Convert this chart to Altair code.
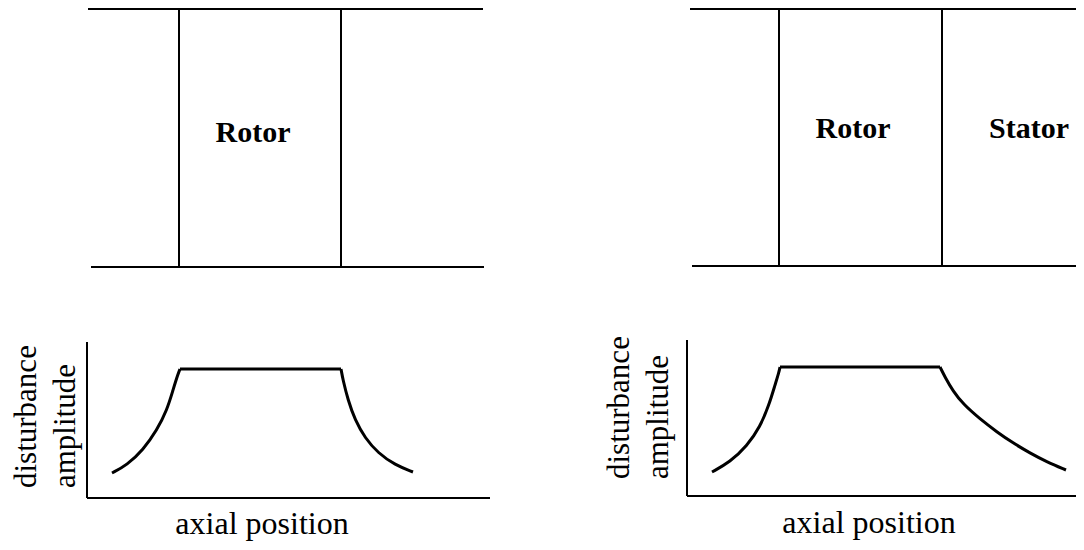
import altair as alt
import pandas as pd

# ---- schematic geometry (image units) ----
wall_x1 = [88, 91, 179, 341, 690, 692, 779, 942]
wall_y1 = [9, 267, 9, 9, 9, 266, 9, 9]
wall_x2 = [483, 484, 179, 341, 1084, 1084, 779, 942]
wall_y2 = [9, 267, 267, 267, 9, 266, 266, 266]

axis_x1 = [87, 87, 687, 687]
axis_y1 = [342, 498, 340, 496]
axis_x2 = [87, 490, 687, 1084]
axis_y2 = [498, 498, 496, 496]

# disturbance amplitude curves (axial position, amplitude), split into rise / flat / decay
left_rise_x = [112, 127, 143, 157, 167, 173, 178, 180]
left_rise_y = [473, 465, 450, 430, 410, 390, 374, 369]
left_flat_x = [180, 341]
left_flat_y = [369, 369]
left_fall_x = [341, 343, 348, 355, 365, 378, 395, 413]
left_fall_y = [369, 380, 400, 420, 438, 453, 465, 472]

right_rise_x = [712, 730, 747, 760, 769, 775, 779, 780]
right_rise_y = [472, 462, 446, 427, 405, 385, 372, 367]
right_flat_x = [780, 940]
right_flat_y = [367, 367]
right_fall_x = [940, 945, 953, 963, 980, 997, 1013, 1030, 1047, 1066]
right_fall_y = [367, 377, 391, 404, 419, 432, 443, 453, 462, 470]

# labels
block_text = ["Rotor", "Rotor", "Stator"]
block_x = [253, 853, 1029]
block_y = [142, 138, 138]

xlabel_text = ["axial position", "axial position"]
xlabel_x = [262, 869]
xlabel_y = [534, 533]

ylabel_text = ["disturbance", "amplitude", "disturbance", "amplitude"]
ylabel_x = [36, 75, 629, 668]
ylabel_y = [488, 488, 479, 479]

# ---- tables ----
walls = pd.DataFrame({"x": wall_x1, "y": wall_y1, "x2": wall_x2, "y2": wall_y2})
axes_df = pd.DataFrame({"x": axis_x1, "y": axis_y1, "x2": axis_x2, "y2": axis_y2})

rows = []
for name, xs, ys in [
    ("l_rise", left_rise_x, left_rise_y), ("l_flat", left_flat_x, left_flat_y),
    ("l_fall", left_fall_x, left_fall_y), ("r_rise", right_rise_x, right_rise_y),
    ("r_flat", right_flat_x, right_flat_y), ("r_fall", right_fall_x, right_fall_y),
]:
    for i, (a, b) in enumerate(zip(xs, ys)):
        rows.append({"seg": name, "i": i, "x": a, "y": b})
curve = pd.DataFrame(rows)

blocks = pd.DataFrame({"t": block_text, "x": block_x, "y": block_y})
xlabels = pd.DataFrame({"t": xlabel_text, "x": xlabel_x, "y": xlabel_y})
ylabels = pd.DataFrame({"t": ylabel_text, "x": ylabel_x, "y": ylabel_y})

XS = alt.Scale(domain=[8, 1076], nice=False, zero=False)
YS = alt.Scale(domain=[8, 542], nice=False, zero=False, reverse=True)
FONT = "Liberation Serif"

def X(f="x"):
    return alt.X(f"{f}:Q", scale=XS, axis=None)

def Y(f="y"):
    return alt.Y(f"{f}:Q", scale=YS, axis=None)

wall_layer = alt.Chart(walls).mark_rule(color="black", strokeWidth=2).encode(
    x=X(), y=Y(), x2="x2:Q", y2="y2:Q")
axis_layer = alt.Chart(axes_df).mark_rule(color="black", strokeWidth=2).encode(
    x=X(), y=Y(), x2="x2:Q", y2="y2:Q")
curve_layer = alt.Chart(curve).mark_line(
    color="black", strokeWidth=3, interpolate="basis", strokeCap="butt"
).encode(x=X(), y=Y(), detail="seg:N", order="i:Q")

block_layer = alt.Chart(blocks).mark_text(
    font=FONT, fontSize=30, fontWeight="bold", color="black",
    align="center", baseline="alphabetic"
).encode(x=X(), y=Y(), text="t:N")
xlabel_layer = alt.Chart(xlabels).mark_text(
    font=FONT, fontSize=32, color="black", align="center", baseline="alphabetic"
).encode(x=X(), y=Y(), text="t:N")
ylabel_layer = alt.Chart(ylabels).mark_text(
    font=FONT, fontSize=31, color="black", align="left", baseline="alphabetic", angle=270
).encode(x=X(), y=Y(), text="t:N")

chart = alt.layer(
    wall_layer, axis_layer, curve_layer, block_layer, xlabel_layer, ylabel_layer
).properties(
    width=1068, height=534, padding=0,
    autosize=alt.AutoSizeParams(type="none"),
    background="white",
).configure_view(stroke=None)

chart.save("out.html", embed_options={"renderer": "svg", "actions": False})
